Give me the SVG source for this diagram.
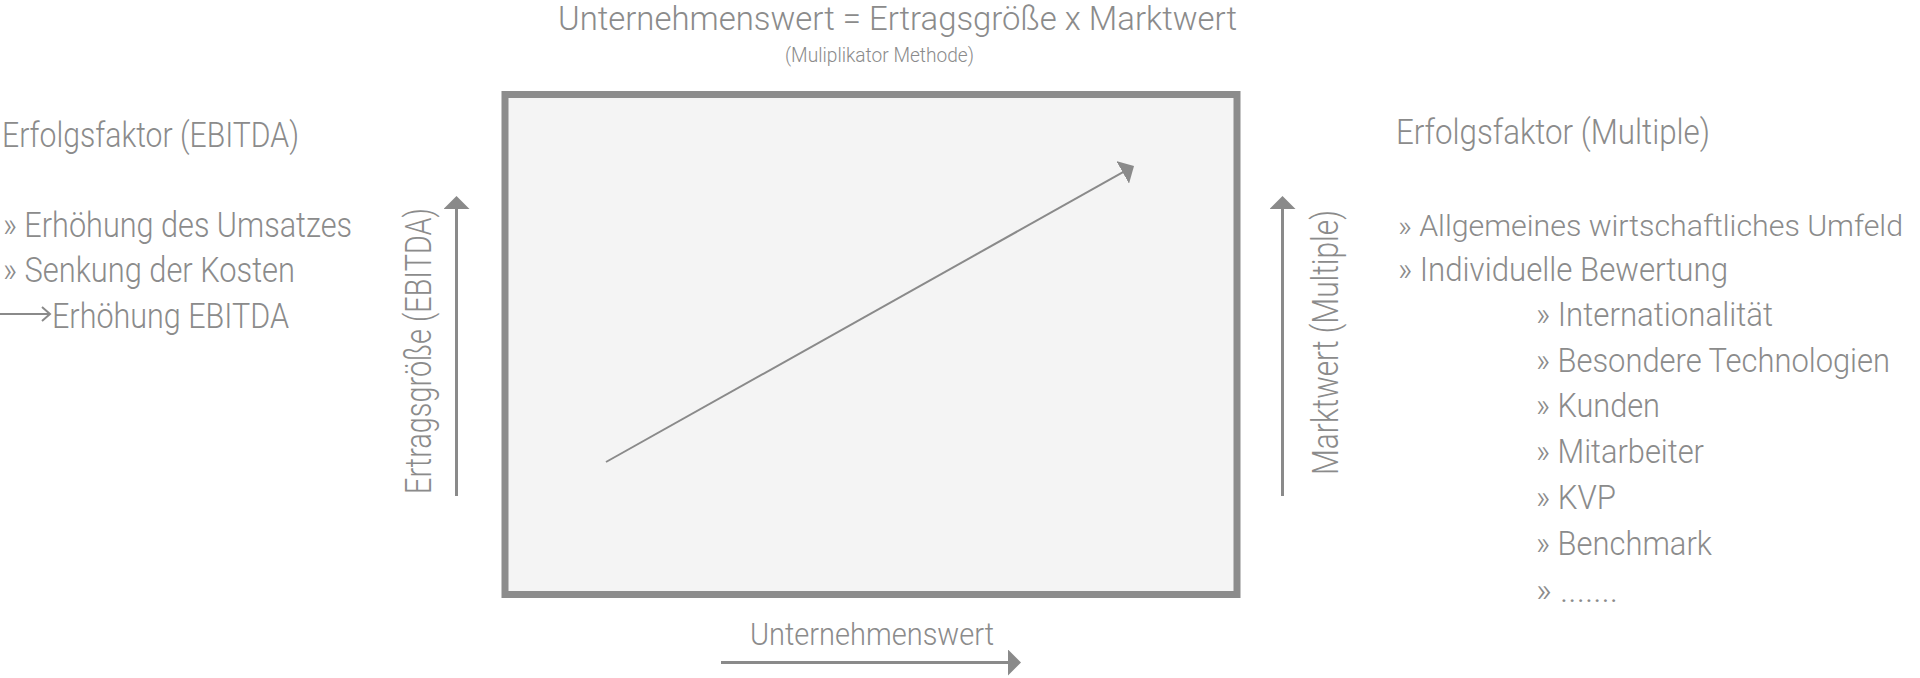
<svg xmlns="http://www.w3.org/2000/svg" width="1920" height="678" viewBox="0 0 1920 678">
<style>
  text { font-family: Roboto, "Liberation Sans", sans-serif; font-weight: 300; fill: #8b8b8b; }
  .t { font-size: 34px; }
  .h { font-size: 35px; }
  .b { font-size: 35px; }
  .r { font-size: 33px; }
  .s { font-size: 21px; }
  .v { font-size: 37px; }
  .x { font-size: 32px; }
  .ax { stroke: #8a8a8a; stroke-width: 3; fill: none; }
  .diag { stroke: #8a8a8a; stroke-width: 2; fill: none; }
</style>
<defs>
  <marker id="head" markerUnits="userSpaceOnUse" viewBox="0 0 13 26" refX="6" refY="13" markerWidth="13" markerHeight="26" orient="auto">
    <path d="M0,0 L13,13 L0,26 Z" fill="#8a8a8a"/>
  </marker>
</defs>
<rect width="1920" height="678" fill="#ffffff"/>

<g id="title">
  <text class="t" x="558" y="30" textLength="679" lengthAdjust="spacingAndGlyphs">Unternehmenswert = Ertragsgröße x Marktwert</text>
  <text class="s" x="785" y="62" textLength="189" lengthAdjust="spacingAndGlyphs">(Muliplikator Methode)</text>
</g>

<g id="chart">
  <rect x="505" y="94.5" width="732" height="500" fill="#f4f4f4" stroke="#8c8c8c" stroke-width="7"/>
</g>

<g id="left-factors">
  <text class="h" x="2" y="147" textLength="297" lengthAdjust="spacingAndGlyphs">Erfolgsfaktor (EBITDA)</text>
  <text class="b" x="3" y="237" textLength="349" lengthAdjust="spacingAndGlyphs">» Erhöhung des Umsatzes</text>
  <text class="b" x="3" y="282" textLength="292" lengthAdjust="spacingAndGlyphs">» Senkung der Kosten</text>
  <path d="M0,314 L49,314 M42,307 L50,314 L42,321" stroke="#8a8a8a" stroke-width="2" fill="none"/>
  <text class="b" x="52" y="328" textLength="237" lengthAdjust="spacingAndGlyphs">Erhöhung EBITDA</text>
</g>

<g id="right-factors">
  <text class="h" x="1396" y="144" textLength="314" lengthAdjust="spacingAndGlyphs">Erfolgsfaktor (Multiple)</text>
  <text class="r" x="1398" y="236" style="font-size:30px" textLength="505" lengthAdjust="spacingAndGlyphs">» Allgemeines wirtschaftliches Umfeld</text>
  <text class="r" x="1398" y="281" textLength="330" lengthAdjust="spacingAndGlyphs">» Individuelle Bewertung</text>
  <text class="r" x="1536" y="326" textLength="237" lengthAdjust="spacingAndGlyphs">» Internationalität</text>
  <text class="r" x="1536" y="372" textLength="354" lengthAdjust="spacingAndGlyphs">» Besondere Technologien</text>
  <text class="r" x="1536" y="417" textLength="124" lengthAdjust="spacingAndGlyphs">» Kunden</text>
  <text class="r" x="1536" y="463" textLength="168" lengthAdjust="spacingAndGlyphs">» Mitarbeiter</text>
  <text class="r" x="1536" y="509" textLength="80" lengthAdjust="spacingAndGlyphs">» KVP</text>
  <text class="r" x="1536" y="555" textLength="176" lengthAdjust="spacingAndGlyphs">» Benchmark</text>
  <text class="r" x="1536" y="602" textLength="82" lengthAdjust="spacingAndGlyphs">» .......</text>
</g>

<g id="axis-left-label">
  <text class="v" transform="translate(431,494) rotate(-90)" textLength="286" lengthAdjust="spacingAndGlyphs">Ertragsgröße (EBITDA)</text>
</g>
<g id="axis-right-label">
  <text class="v" transform="translate(1338,475) rotate(-90)" textLength="265" lengthAdjust="spacingAndGlyphs">Marktwert (Multiple)</text>
</g>
<g id="axis-bottom-label">
  <text class="x" x="750" y="645" textLength="244" lengthAdjust="spacingAndGlyphs">Unternehmenswert</text>
</g>

<g id="connectors">
  <line class="ax" x1="456.5" y1="496" x2="456.5" y2="203" marker-end="url(#head)"/>
  <line class="ax" x1="1282.5" y1="496" x2="1282.5" y2="203" marker-end="url(#head)"/>
  <line class="ax" x1="721" y1="662.5" x2="1014" y2="662.5" marker-end="url(#head)"/>
  <line class="diag" x1="606" y1="462" x2="1127.9" y2="169.4" marker-end="url(#head)"/>
</g>
</svg>
